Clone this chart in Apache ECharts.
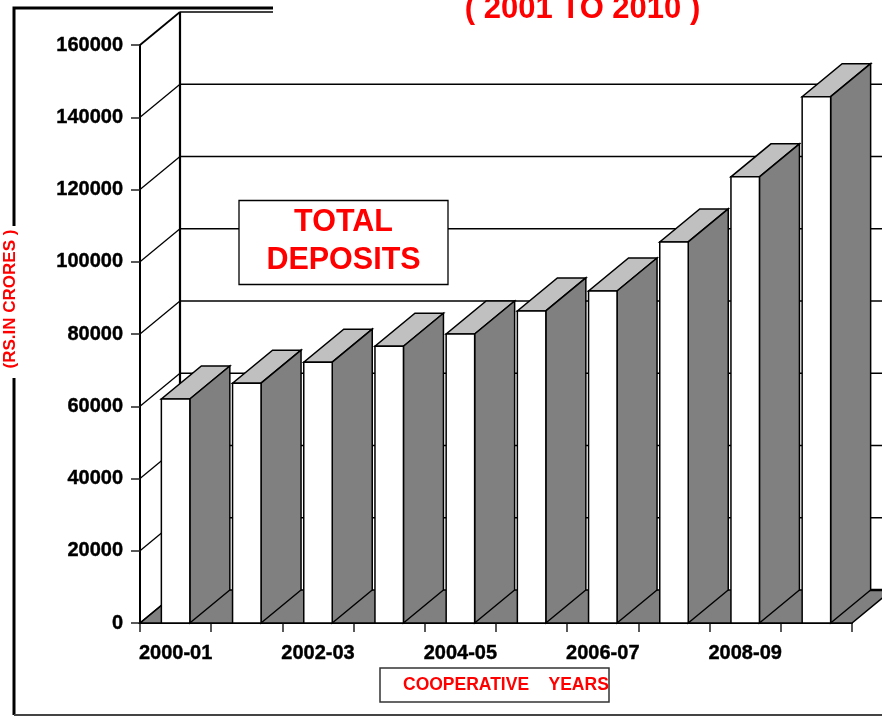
<!DOCTYPE html>
<html><head><meta charset="utf-8">
<style>html,body{margin:0;padding:0;background:#fff}#c{width:882px;height:716px}</style>
<script src="https://cdn.jsdelivr.net/npm/echarts@6/dist/echarts.min.js"></script>
</head><body><div id="c"></div>
<script>
const categories = ['2000-01','2001-02','2002-03','2003-04','2004-05','2005-06','2006-07','2007-08','2008-09','2009-10'];
const deposits = [62000,66400,72200,76600,80000,86400,91900,105500,123500,145700];
const wallTicks = [0,20000,40000,60000,80000,100000,120000,140000,160000];
const titleText = '( 2001 TO 2010 )';
const boxLines = 'TOTAL\nDEPOSITS';
const yName = '(RS.IN CRORES )';
const xName = 'COOPERATIVE    YEARS';

const DX = 40, DY = -33, FONT = '"Liberation Sans", Arial, sans-serif';
const chart = echarts.init(document.getElementById('c'), null, {renderer:'canvas'});
const line = (a,b,w) => ({type:'line',shape:{x1:a[0],y1:a[1],x2:b[0],y2:b[1]},style:{stroke:'#000',lineWidth:w}});
const poly = (pts,fill,w) => ({type:'polygon',shape:{points:pts},style:{fill:fill,stroke:'#000',lineWidth:w,lineJoin:'miter'}});

function renderWall(params, api){
  const cs = params.coordSys, v = api.value(0), y = api.coord([0,v])[1];
  const L = cs.x, R = cs.x + cs.width, ch = [];
  if (v === 0) {
    ch.push(poly([[L,y],[L+DX,y+DY],[R+DX,y+DY],[R,y]],'#808080',1.5));
    ch.push(line([L+DX,y+DY],[L+DX,cs.y+DY],2.2));
    ch.push(line([L,y],[L+DX,y+DY],1.5));
    ch.push(line([R-10,y+DY],[R+DX,y+DY],2.5));
  } else {
    ch.push(line([L,y],[L+DX,y+DY],v===160000?1.8:1.3));
    ch.push(line([L+DX,y+DY],[R+DX,y+DY],1.3));
  }
  return {type:'group',children:ch};
}
function renderBar(params, api){
  const band = api.size([1,0])[0], w = band*0.4;
  const top = api.coord([api.value(0),api.value(1)]), base = api.coord([api.value(0),0]);
  const x0 = top[0]-w/2, x1 = top[0]+w/2, yt = top[1], yb = base[1];
  return {type:'group',children:[
    poly([[x0,yt],[x1,yt],[x1+DX,yt+DY],[x0+DX,yt+DY]],'#c0c0c0',1.5),
    poly([[x1,yt],[x1+DX,yt+DY],[x1+DX,yb+DY],[x1,yb]],'#808080',1.5),
    poly([[x0,yt],[x1,yt],[x1,yb],[x0,yb]],'#ffffff',1.5)
  ]};
}
chart.setOption({
  animation:false,
  backgroundColor:'#fff',
  grid:{left:140,right:30,top:45,bottom:93},
  xAxis:{type:'category',data:categories,boundaryGap:true,
    axisLine:{lineStyle:{color:'#000',width:2}},
    axisTick:{show:true,alignWithLabel:false,interval:0,length:9,lineStyle:{color:'#222',width:1.5}},
    axisLabel:{interval:1,margin:20,color:'#000',fontFamily:FONT,fontWeight:'bold',fontSize:20,textBorderColor:'#000',textBorderWidth:0.4},
    splitLine:{show:false}},
  yAxis:{type:'value',min:0,max:160000,interval:20000,
    axisLine:{show:true,lineStyle:{color:'#000',width:2}},
    axisTick:{show:true,length:9,lineStyle:{color:'#222',width:1.5}},
    axisLabel:{margin:17,padding:[3,0,0,0],formatter:v=>String(v),color:'#000',fontFamily:FONT,fontWeight:'bold',fontSize:20,textBorderColor:'#000',textBorderWidth:0.4},
    splitLine:{show:false}},
  series:[
    {type:'custom',name:'wall',clip:false,z:1,coordinateSystem:'cartesian2d',renderItem:renderWall,
     encode:{y:0},data:wallTicks.map(t=>[t]),silent:true},
    {type:'custom',name:'Total deposits',clip:false,z:3,coordinateSystem:'cartesian2d',renderItem:renderBar,
     encode:{x:0,y:1},data:deposits.map((d,i)=>[i,d])}
  ],
  graphic:[
    {type:'rect',z:50,shape:{x:273,y:0,width:609,height:26},style:{fill:'#fff'}},
    {type:'polyline',z:51,shape:{points:[[14,226],[14,8],[273,8]]},style:{stroke:'#000',lineWidth:3,fill:null}},
    {type:'line',z:51,shape:{x1:14,y1:378,x2:14,y2:715},style:{stroke:'#000',lineWidth:3}},
    {type:'line',z:51,shape:{x1:14,y1:715,x2:882,y2:715},style:{stroke:'#444',lineWidth:2}},
    {type:'text',z:52,style:{x:582.5,y:9,text:titleText,fill:'#f00',font:'bold 31px '+FONT,align:'center',verticalAlign:'middle'}},
    {type:'rect',z:52,shape:{x:239,y:200.5,width:209,height:84},style:{fill:'#fff',stroke:'#000',lineWidth:1.3}},
    {type:'text',z:53,style:{x:343.5,y:242,text:boxLines,fill:'#f00',font:'bold 30.5px '+FONT,align:'center',verticalAlign:'middle',lineHeight:38}},
    {type:'rect',z:52,shape:{x:380,y:668,width:229,height:34},style:{fill:'#fff',stroke:'#333',lineWidth:1.5}},
    {type:'text',z:53,style:{x:403,y:685,text:xName,fill:'#f00',font:'bold 17.5px '+FONT,align:'left',verticalAlign:'middle'}},
    {type:'text',z:53,x:10,y:299,rotation:Math.PI/2,style:{x:0,y:0,text:yName,fill:'#f00',font:'bold 17px '+FONT,align:'center',verticalAlign:'middle'}}
  ]
});
</script></body></html>
